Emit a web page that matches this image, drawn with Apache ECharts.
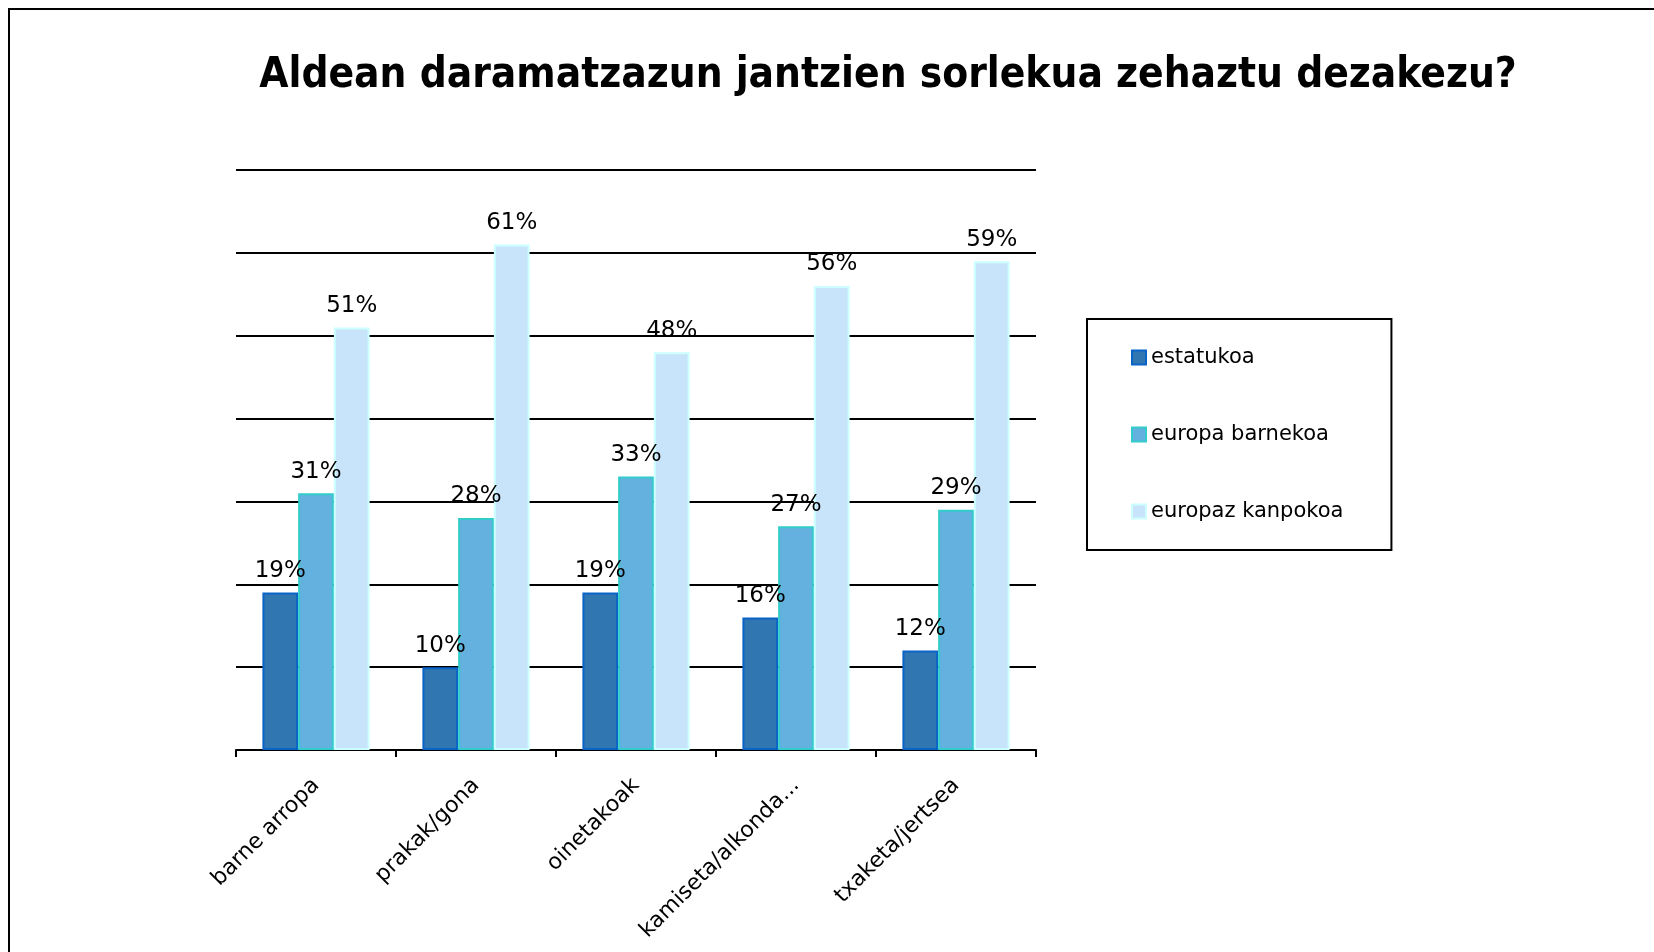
<!DOCTYPE html>
<html><head><meta charset="utf-8">
<script src="https://cdn.jsdelivr.net/npm/echarts@6/dist/echarts.min.js"></script>
<style>html,body{margin:0;padding:0;background:#fff}#c{width:1654px;height:952px}</style>
</head><body><div id="c"></div>
<script>
const titleText = 'Aldean daramatzazun jantzien sorlekua zehaztu dezakezu?';
const categories = ['barne arropa', 'prakak/gona', 'oinetakoak', 'kamiseta/alkonda...', 'txaketa/jertsea'];
const seriesNames = ['estatukoa', 'europa barnekoa', 'europaz kanpokoa'];
const estatukoa = [19, 10, 19, 16, 12];
const europaBarnekoa = [31, 28, 33, 27, 29];
const europazKanpokoa = [51, 61, 48, 56, 59];
const yMin = 0, yMax = 70, yInterval = 10;

const fills = ['#3076B0', '#64B0DE', '#C8E4FB'];
const borders = ['#0A64C8', '#33CCCC', '#CCFFFF'];
const values = [estatukoa, europaBarnekoa, europazKanpokoa];

const chart = echarts.init(document.getElementById('c'));
chart.setOption({
  animation: false,
  backgroundColor: '#fff',
  title: {
    text: titleText,
    left: 883, top: 50, textAlign: 'center',
    textStyle: { fontFamily: '"Liberation Sans Narrow", "DejaVu Sans Condensed", "DejaVu Sans"', fontWeight: 'bold', fontSize: 42, color: '#000' }
  },
  graphic: [{
    type: 'rect', shape: { x: 9, y: 9, width: 1700, height: 1000 },
    style: { fill: 'none', stroke: '#000', lineWidth: 2 }, silent: true, z: 100
  }],
  legend: {
    orient: 'vertical', left: 1087, top: 319,
    padding: [28, 48, 28, 44],
    itemGap: 56, itemWidth: 14, itemHeight: 14, icon: 'rect',
    borderColor: '#000', borderWidth: 2,
    textStyle: { fontFamily: '"DejaVu Sans"', fontSize: 21, color: '#000' },
    data: seriesNames
  },
  grid: { left: 236, right: 618, top: 170, bottom: 202, containLabel: false },
  xAxis: {
    type: 'category', data: categories,
    axisLine: { lineStyle: { color: '#000', width: 2 } },
    axisTick: { show: true, length: 7, lineStyle: { color: '#000', width: 2 } },
    axisLabel: { rotate: 45, margin: 32, interval: 0, fontFamily: '"DejaVu Sans"', fontSize: 22, color: '#000' }
  },
  yAxis: {
    type: 'value', min: yMin, max: yMax, interval: yInterval,
    axisLine: { show: false }, axisTick: { show: false }, axisLabel: { show: false },
    splitLine: { lineStyle: { color: '#000', width: 2 } }
  },
  series: seriesNames.map((n, i) => ({
    name: n, type: 'bar', data: values[i],
    barGap: '0%', barCategoryGap: '33%',
    itemStyle: { color: fills[i], borderColor: borders[i], borderWidth: 2 },
    label: { show: true, position: 'top', distance: 10, formatter: '{c}%', fontFamily: '"DejaVu Sans"', fontSize: 23, color: '#000' }
  }))
});
</script></body></html>
